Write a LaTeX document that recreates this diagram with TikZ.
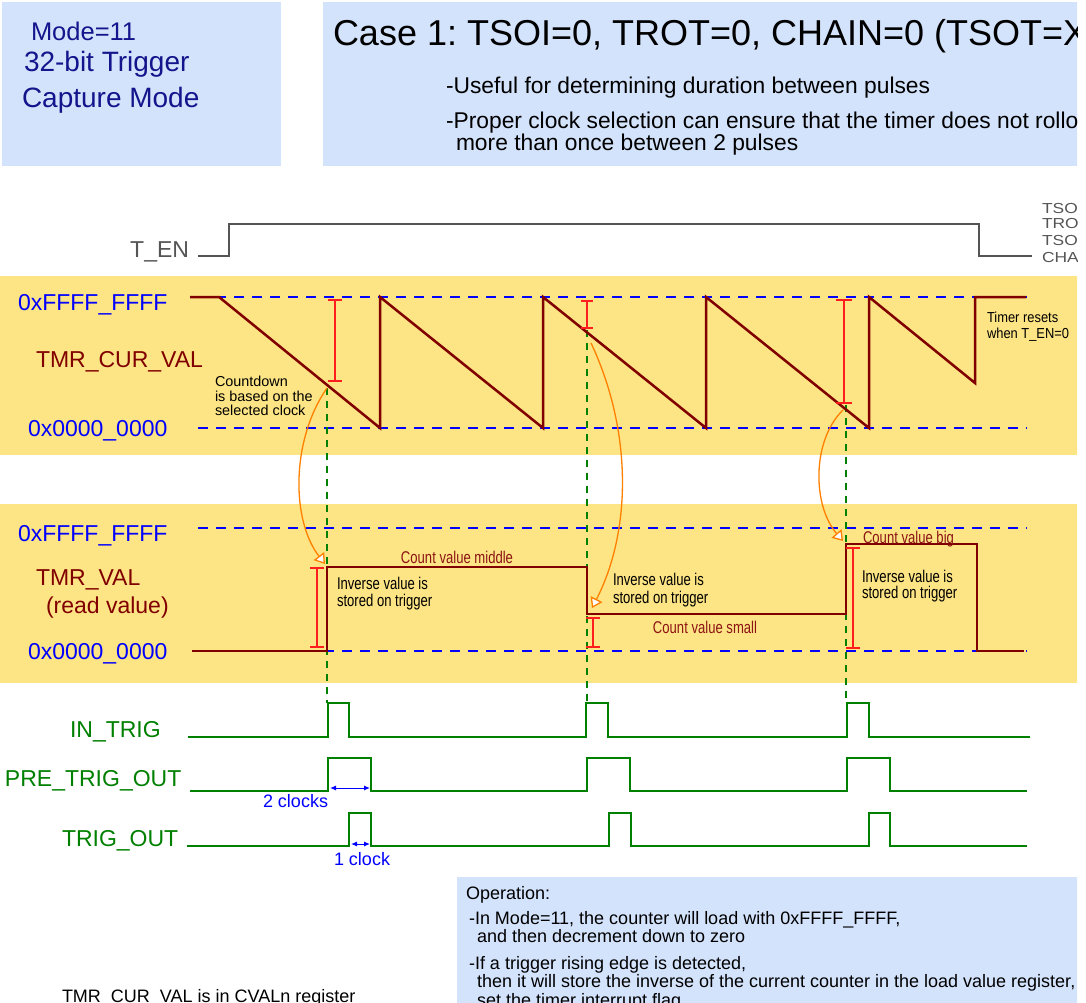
\documentclass[tikz,border=0pt]{standalone}
\usepackage{fontspec}
\setmainfont{Liberation Sans}
\newfontfamily\narrowfont[FakeStretch=0.77]{Liberation Sans}
\newfontfamily\semifont[FakeStretch=0.89]{Liberation Sans}
\newfontfamily\widefont[FakeStretch=1.2]{Liberation Sans}
\usetikzlibrary{arrows.meta}
\definecolor{boxblue}{RGB}{212,227,252}
\definecolor{band}{RGB}{253,228,132}
\definecolor{navy}{RGB}{20,20,140}
\definecolor{wave}{RGB}{128,0,0}
\definecolor{cval}{RGB}{140,20,20}
\definecolor{sig}{RGB}{0,128,0}
\definecolor{barred}{RGB}{255,30,30}
\definecolor{arcor}{RGB}{255,128,0}
\definecolor{tgray}{RGB}{85,85,85}
\newcommand\fsz[1]{\fontsize{#1}{#1}\selectfont}
\frenchspacing
\begin{document}
\begin{tikzpicture}[x=1pt,y=-1pt,
  txt/.style={inner sep=0pt, outer sep=0pt, anchor=base west},
  hexlbl/.style={txt, text=blue, font=\fsz{23}},
  reglbl/.style={txt, text=wave, font=\fsz{23}},
  siglbl/.style={txt, text=sig, font=\fsz{23}},
  note/.style={txt, text=black, font=\fsz{14.4}},
  narrow/.style={txt, text=black, font=\narrowfont\fsz{17}},
  cnt/.style={txt, text=cval, font=\narrowfont\fsz{17}},
  optxt/.style={txt, text=black, font=\fsz{18}},
  clk/.style={txt, text=blue, font=\fsz{18}},
  tenlbl/.style={txt, text=tgray, font=\widefont\fsz{14.5}},
  wavef/.style={wave, line width=2.5pt},
  sigwave/.style={sig, line width=2.4pt},
  bdash/.style={blue, line width=2.3pt, dash pattern=on 10pt off 8pt},
  gdash/.style={sig, line width=2pt, dash pattern=on 7pt off 6pt},
  ibar/.style={barred, line width=1.4pt},
  orarc/.style={arcor, line width=1.3pt, -{Triangle[fill=white, length=10pt, width=13pt]}},
  clkarrow/.style={blue, line width=1pt, {Latex[length=6pt,width=5pt]}-{Latex[length=6pt,width=5pt]}}
]
\useasboundingbox (0,0) rectangle (1086,1003);
\fill[white] (0,0) rectangle (1086,1003);
\begin{scope}
\clip (0,0) rectangle (1077,1003);
% header boxes
\fill[boxblue] (2,2) rectangle (281,166);
\fill[boxblue] (323,2) rectangle (1086,166);
\node[txt, text=navy, font=\fsz{25.5}] (m1) at (31,41) {Mode=11};
\node[txt, text=navy, font=\fsz{28}] (m2) at (24,72) {32-bit Trigger};
\node[txt, text=navy, font=\fsz{28}] (m3) at (22,108) {Capture Mode};
\node[txt, font=\fsz{36}] (title) at (333,46) {Case 1: TSOI=0, TROT=0, CHAIN=0 (TSOT=X)};
\node[txt, font=\fsz{22.8}] (s1) at (446,94) {-Useful for determining duration between pulses};
\node[txt, font=\fsz{22.8}] (s2) at (446,129) {-Proper clock selection can ensure that the timer does not rollover};
\node[txt, font=\fsz{22.8}] (s3) at (456,151) {more than once between 2 pulses};
% T_EN
\node[txt, anchor=base east, text=tgray, font=\fsz{23}] (ten) at (189,257) {T\_EN};
\draw[tgray, line width=2pt] (198,256) -- (229,256) -- (229,224) -- (979,224) -- (979,256) -- (1032,256);
\node[tenlbl] (c1) at (1042,213) {TSOI=0};
\node[tenlbl] (c2) at (1042,228) {TROT=0};
\node[tenlbl] (c3) at (1042,245) {TSOT=X};
\node[tenlbl] (c4) at (1042,262) {CHAIN=0};
% bands
\fill[band] (0,276) rectangle (1086,455);
\fill[band] (0,504) rectangle (1086,683);
\node[hexlbl] (h1) at (18,310) {0xFFFF\_FFFF};
\node[reglbl] (r1) at (36,367) {TMR\_CUR\_VAL};
\node[hexlbl] (h2) at (28,436) {0x0000\_0000};
\node[hexlbl] (h3) at (18,541) {0xFFFF\_FFFF};
\node[reglbl] (r2) at (36,585) {TMR\_VAL};
\node[reglbl] (r3) at (46,613) {(read value)};
\node[hexlbl] (h4) at (28,659) {0x0000\_0000};
\draw[bdash] (198,297) -- (1027,297);
\draw[bdash] (198,428) -- (1027,428);
\draw[bdash] (198,528) -- (1027,528);
\draw[bdash] (198,651) -- (1027,651);
% green dashed trigger lines
\draw[gdash] (327,388) -- (327,703);
\draw[gdash] (587,330) -- (587,703);
\draw[gdash] (846,405) -- (846,703);
% sawtooth
\draw[wavef] (190,297) -- (219,297) -- (380,428) -- (380,297) -- (543,428) -- (543,297) -- (706,428) -- (706,297) -- (869,428) -- (869,297) -- (975,383) -- (975,297) -- (1026,297);
% TMR_VAL
\draw[wavef] (192,651) -- (327,651) -- (327,567) -- (587,567) -- (587,614) -- (846,614) -- (846,544) -- (977,544) -- (977,651) -- (1024,651);
% I-bars
\draw[ibar] (328,300) -- (342,300) (335,300) -- (335,381) (328,381) -- (342,381);
\draw[ibar] (581,301) -- (593,301) (587,301) -- (587,328) (581,328) -- (593,328);
\draw[ibar] (836,300) -- (852,300) (844,300) -- (844,403) (836,403) -- (852,403);
\draw[ibar] (310,568) -- (324,568) (317,568) -- (317,647) (310,647) -- (324,647);
\draw[ibar] (586,618) -- (600,618) (593,618) -- (593,647) (586,647) -- (600,647);
\draw[ibar] (846,548) -- (860,548) (853,548) -- (853,648) (846,648) -- (860,648);
% arcs
\coordinate (a1s) at (327,388); \coordinate (a1e) at (325,564);
\coordinate (a2s) at (591,343); \coordinate (a2e) at (592,608);
\coordinate (a3s) at (843,410); \coordinate (a3e) at (843,541);
\draw[orarc] (a1s) .. controls (291,440) and (291,520) .. (a1e);
\draw[orarc] (a2s) .. controls (632,430) and (632,530) .. (a2e);
\draw[orarc] (a3s) .. controls (812,440) and (812,505) .. (a3e);
% notes
\node[note] (n1) at (215,386) {Countdown};
\node[note] (n2) at (215,401) {is based on the};
\node[note] (n3) at (215,415) {selected clock};
\node[txt, font=\semifont\fsz{14.5}] (t1) at (987,322) {Timer resets};
\node[txt, font=\semifont\fsz{14.5}] (t2) at (987,338) {when T\_EN=0};
\node[cnt, anchor=base] (cm) at (457,563) {Count value middle};
\node[cnt, anchor=base] (cs) at (705,633) {Count value small};
\node[cnt] (cb) at (863,543) {Count value big};
\node[narrow] (i1a) at (337,589) {Inverse value is};
\node[narrow] (i1b) at (337,606) {stored on trigger};
\node[narrow] (i2a) at (613,585) {Inverse value is};
\node[narrow] (i2b) at (613,603) {stored on trigger};
\node[narrow] (i3a) at (862,582) {Inverse value is};
\node[narrow] (i3b) at (862,598) {stored on trigger};
% signals
\node[siglbl] (l1) at (70,737) {IN\_TRIG};
\node[siglbl] (l2) at (5,786) {PRE\_TRIG\_OUT};
\node[siglbl] (l3) at (62,846) {TRIG\_OUT};
\draw[sigwave] (188,737) -- (328,737) -- (328,703) -- (349,703) -- (349,737) -- (586,737) -- (586,703) -- (608,703) -- (608,737) -- (847,737) -- (847,703) -- (869,703) -- (869,737) -- (1030,737);
\draw[sigwave] (190,791) -- (328,791) -- (328,758) -- (371,758) -- (371,791) -- (587,791) -- (587,758) -- (630,758) -- (630,791) -- (847,791) -- (847,758) -- (890,758) -- (890,791) -- (1027,791);
\draw[sigwave] (187,846) -- (349,846) -- (349,813) -- (371,813) -- (371,846) -- (609,846) -- (609,813) -- (631,813) -- (631,846) -- (869,846) -- (869,813) -- (890,813) -- (890,846) -- (1027,846);
\coordinate (k1a) at (330,788); \coordinate (k1b) at (370,788);
\coordinate (k2a) at (351,844); \coordinate (k2b) at (370,844);
\draw[clkarrow] (k1a) -- (k1b);
\draw[clkarrow] (k2a) -- (k2b);
\node[clk] (k1) at (263,807) {2 clocks};
\node[clk] (k2) at (334,865) {1 clock};
% operation box
\fill[boxblue] (457,877) rectangle (1086,1003);
\node[optxt] (o1) at (466,899) {Operation:};
\node[optxt] (o2) at (469,924) {-In Mode=11, the counter will load with 0xFFFF\_FFFF,};
\node[optxt] (o3) at (477,942) {and then decrement down to zero};
\node[optxt] (o4) at (469,969) {-If a trigger rising edge is detected,};
\node[optxt] (o5) at (477,987) {then it will store the inverse of the current counter in the load value register,};
\node[optxt] (o6) at (477,1006) {set the timer interrupt flag};
\node[optxt] (bt) at (62,1002) {TMR\_CUR\_VAL is in CVALn register};
\end{scope}
\end{tikzpicture}
\end{document}
